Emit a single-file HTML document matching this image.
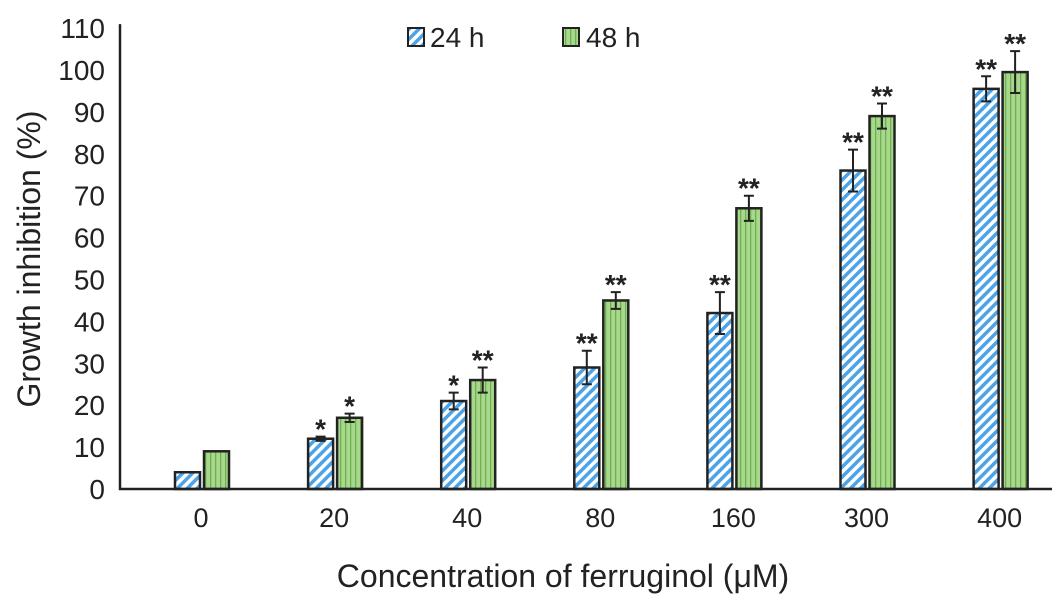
<!DOCTYPE html>
<html><head><meta charset="utf-8"><style>
body{margin:0;background:#fff}
svg text{font-family:"Liberation Sans",sans-serif;fill:#222}
</style></head><body>
<svg id="c" width="1063" height="602">
<defs>
<pattern id="hatch" width="7" height="7" patternUnits="userSpaceOnUse" patternTransform="rotate(45)">
<rect width="7" height="7" fill="#fff"/><rect width="3.5" height="7" fill="#4da3e8"/></pattern>
<pattern id="vert" width="5" height="5" patternUnits="userSpaceOnUse">
<rect width="5" height="5" fill="#a8d98a"/><rect x="0" width="1.3" height="5" fill="#6fae55"/></pattern>
</defs>
<g id="g"></g>
</svg>
<script>
const categories=["0","20","40","80","160","300","400"];
const v24=[4,12,21,29,42,76,95.5];
const e24=[0,0.5,2,4,5,5,3];
const s24=["","*","*","**","**","**","**"];
const v48=[9,17,26,45,67,89,99.5];
const e48=[0,1,3,2,3,3,5];
const s48=["","*","**","**","**","**","**"];
const yTicks=[0,10,20,30,40,50,60,70,80,90,100,110];
const g=document.getElementById('g');
const X0=120,X1=1052,Y0=489,PY=4.19;
const y=v=>Y0-v*PY;
const cw=133.1;
const cx=i=>201+cw*i;
function el(t,a,txt){const e=document.createElementNS('http://www.w3.org/2000/svg',t);for(const k in a)e.setAttribute(k,a[k]);if(txt!==undefined)e.textContent=txt;g.appendChild(e);return e;}
yTicks.forEach(t=>{const e=el('text',{x:105,y:y(t)+10,'font-size':28,'text-anchor':'end'},t);

});
function bar(i,v,er,st,dx,fill,name){
 const w=25,x=cx(i)+dx;
 const r=el('rect',{x:x,y:y(v),width:w,height:Y0-y(v),fill:fill,stroke:'#222','stroke-width':2.5});
 
 
 const m=x+w/2;let top=y(v);
 if(er>0){top=y(v+er);
  const eb=el('path',{d:`M${m},${y(v-er)}V${top}M${m-5},${top}H${m+5}M${m-5},${y(v-er)}H${m+5}`,stroke:'#222','stroke-width':2,fill:'none'});
  
  }
 if(st){const s=el('text',{x:m,y:top+2,'font-size':28,'text-anchor':'middle','font-weight':'bold','fill':'#333'},st);
  
  }
}
categories.forEach((c,i)=>{
 bar(i,v24[i],e24[i],s24[i],-26,'url(#hatch)','bar-24h-'+c);
 bar(i,v48[i],e48[i],s48[i],3,'url(#vert)','bar-48h-'+c);
 const t=el('text',{x:cx(i),y:527,'font-size':27,'text-anchor':'middle'},c);
 
 
});
const ax=el('path',{d:`M${X0},${y(110)-4}V${Y0}H${X1}`,stroke:'#222','stroke-width':2.5,fill:'none'});


const xt=el('text',{x:563,y:587,'font-size':32,'text-anchor':'middle'},'Concentration of ferruginol (μM)');


const yt=el('text',{x:40,y:259,'font-size':32,'text-anchor':'middle',transform:'rotate(-90 40 259)'},'Growth inhibition (%)');


const l1=el('rect',{x:408,y:28,width:16,height:18,fill:'url(#hatch)',stroke:'#222','stroke-width':2});


const l1t=el('text',{x:430,y:47,'font-size':28},'24 h');


const l2=el('rect',{x:563,y:28,width:16,height:18,fill:'url(#vert)',stroke:'#222','stroke-width':2});


const l2t=el('text',{x:586,y:47,'font-size':28},'48 h');


</script>
</body></html>
